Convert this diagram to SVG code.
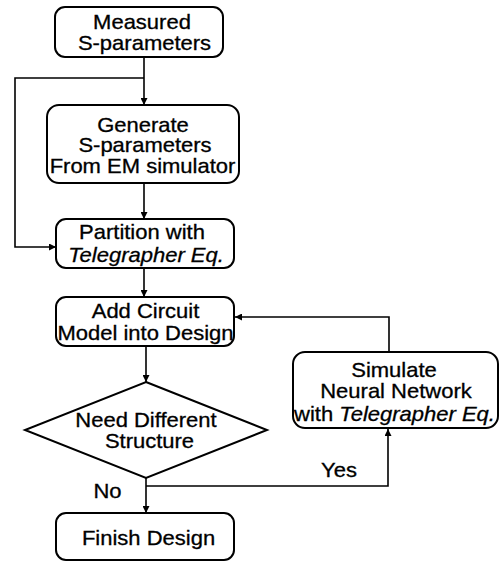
<svg xmlns="http://www.w3.org/2000/svg" width="500" height="563" viewBox="0 0 500 563">
<defs>
<marker id="ah" viewBox="0 0 10 10" refX="10" refY="5" markerWidth="7" markerHeight="7" markerUnits="userSpaceOnUse" orient="auto">
<path d="M0,0 L10,5 L0,10 z" fill="#000"/>
</marker>
<style>
.box{fill:#fff;stroke:#000;stroke-width:2}
.t{font-family:"Liberation Sans",Arial,sans-serif;font-size:20px;fill:#000;stroke:#000;stroke-width:0.3;text-anchor:middle}
.i{font-style:italic}
.c{fill:none;stroke:#000;stroke-width:1.6}
</style>
</defs>
<rect width="500" height="563" fill="#fff"/>
<g id="connectors">
<path class="c" d="M144,57 V105" marker-end="url(#ah)"/>
<path class="c" d="M144,78 H15 V247 H56" marker-end="url(#ah)"/>
<path class="c" d="M144,183 V219" marker-end="url(#ah)"/>
<path class="c" d="M144,268 V297" marker-end="url(#ah)"/>
<path class="c" d="M389,352 V317 H235" marker-end="url(#ah)"/>
<path class="c" d="M146,346 V382" marker-end="url(#ah)"/>
<path class="c" d="M146,478 V513" marker-end="url(#ah)"/>
<path class="c" d="M146,486 H388 V429" marker-end="url(#ah)"/>
<text class="t" x="339" y="477" transform="matrix(1.1 0 0 1 -33.9 0)">Yes</text>
<text class="t" x="107.5" y="498" transform="matrix(1.1 0 0 1 -10.75 0)">No</text>
</g>
<g id="measured">
<rect class="box" x="55" y="7" width="168" height="50" rx="10"/>
<text class="t" x="142" y="29" transform="matrix(1.1 0 0 1 -14.2 0)">Measured</text>
<text class="t" x="144.5" y="50" transform="matrix(1.1 0 0 1 -14.45 0)">S-parameters</text>
</g>
<g id="generate">
<rect class="box" x="47" y="105" width="192" height="78" rx="12"/>
<text class="t" x="143" y="132" transform="matrix(1.1 0 0 1 -14.3 0)">Generate</text>
<text class="t" x="145" y="152" transform="matrix(1.1 0 0 1 -14.5 0)">S-parameters</text>
<text class="t" x="142.5" y="173" transform="matrix(1.1 0 0 1 -14.25 0)">From EM simulator</text>
</g>
<g id="partition">
<rect class="box" x="56" y="219" width="178" height="49" rx="10"/>
<text class="t" x="142" y="239" transform="matrix(1.1 0 0 1 -14.2 0)">Partition with</text>
<text class="t i" x="146" y="262" transform="matrix(1.1 0 0 1 -14.6 0)">Telegrapher Eq.</text>
</g>
<g id="addcircuit">
<rect class="box" x="56" y="297" width="178" height="49" rx="10"/>
<text class="t" x="145.5" y="318" transform="matrix(1.1 0 0 1 -14.55 0)">Add Circuit</text>
<text class="t" x="145.5" y="340" transform="matrix(1.1 0 0 1 -14.55 0)">Model into Design</text>
</g>
<g id="simulate">
<rect class="box" x="293" y="352" width="205" height="76" rx="12"/>
<text class="t" x="394" y="377" transform="matrix(1.1 0 0 1 -39.4 0)">Simulate</text>
<text class="t" x="396" y="398" transform="matrix(1.1 0 0 1 -39.6 0)">Neural Network</text>
<text class="t" x="394.5" y="421" transform="matrix(1.1 0 0 1 -39.45 0)">with <tspan class="i">Telegrapher Eq.</tspan></text>
</g>
<g id="decision">
<polygon class="box" points="146,382 267,430 146,478 25,430"/>
<text class="t" x="146" y="427" transform="matrix(1.1 0 0 1 -14.6 0)">Need Different</text>
<text class="t" x="149.5" y="448" transform="matrix(1.1 0 0 1 -14.95 0)">Structure</text>
</g>
<g id="finish">
<rect class="box" x="56" y="513" width="178" height="47" rx="10"/>
<text class="t" x="148.5" y="545" transform="matrix(1.1 0 0 1 -14.85 0)">Finish Design</text>
</g>
</svg>
